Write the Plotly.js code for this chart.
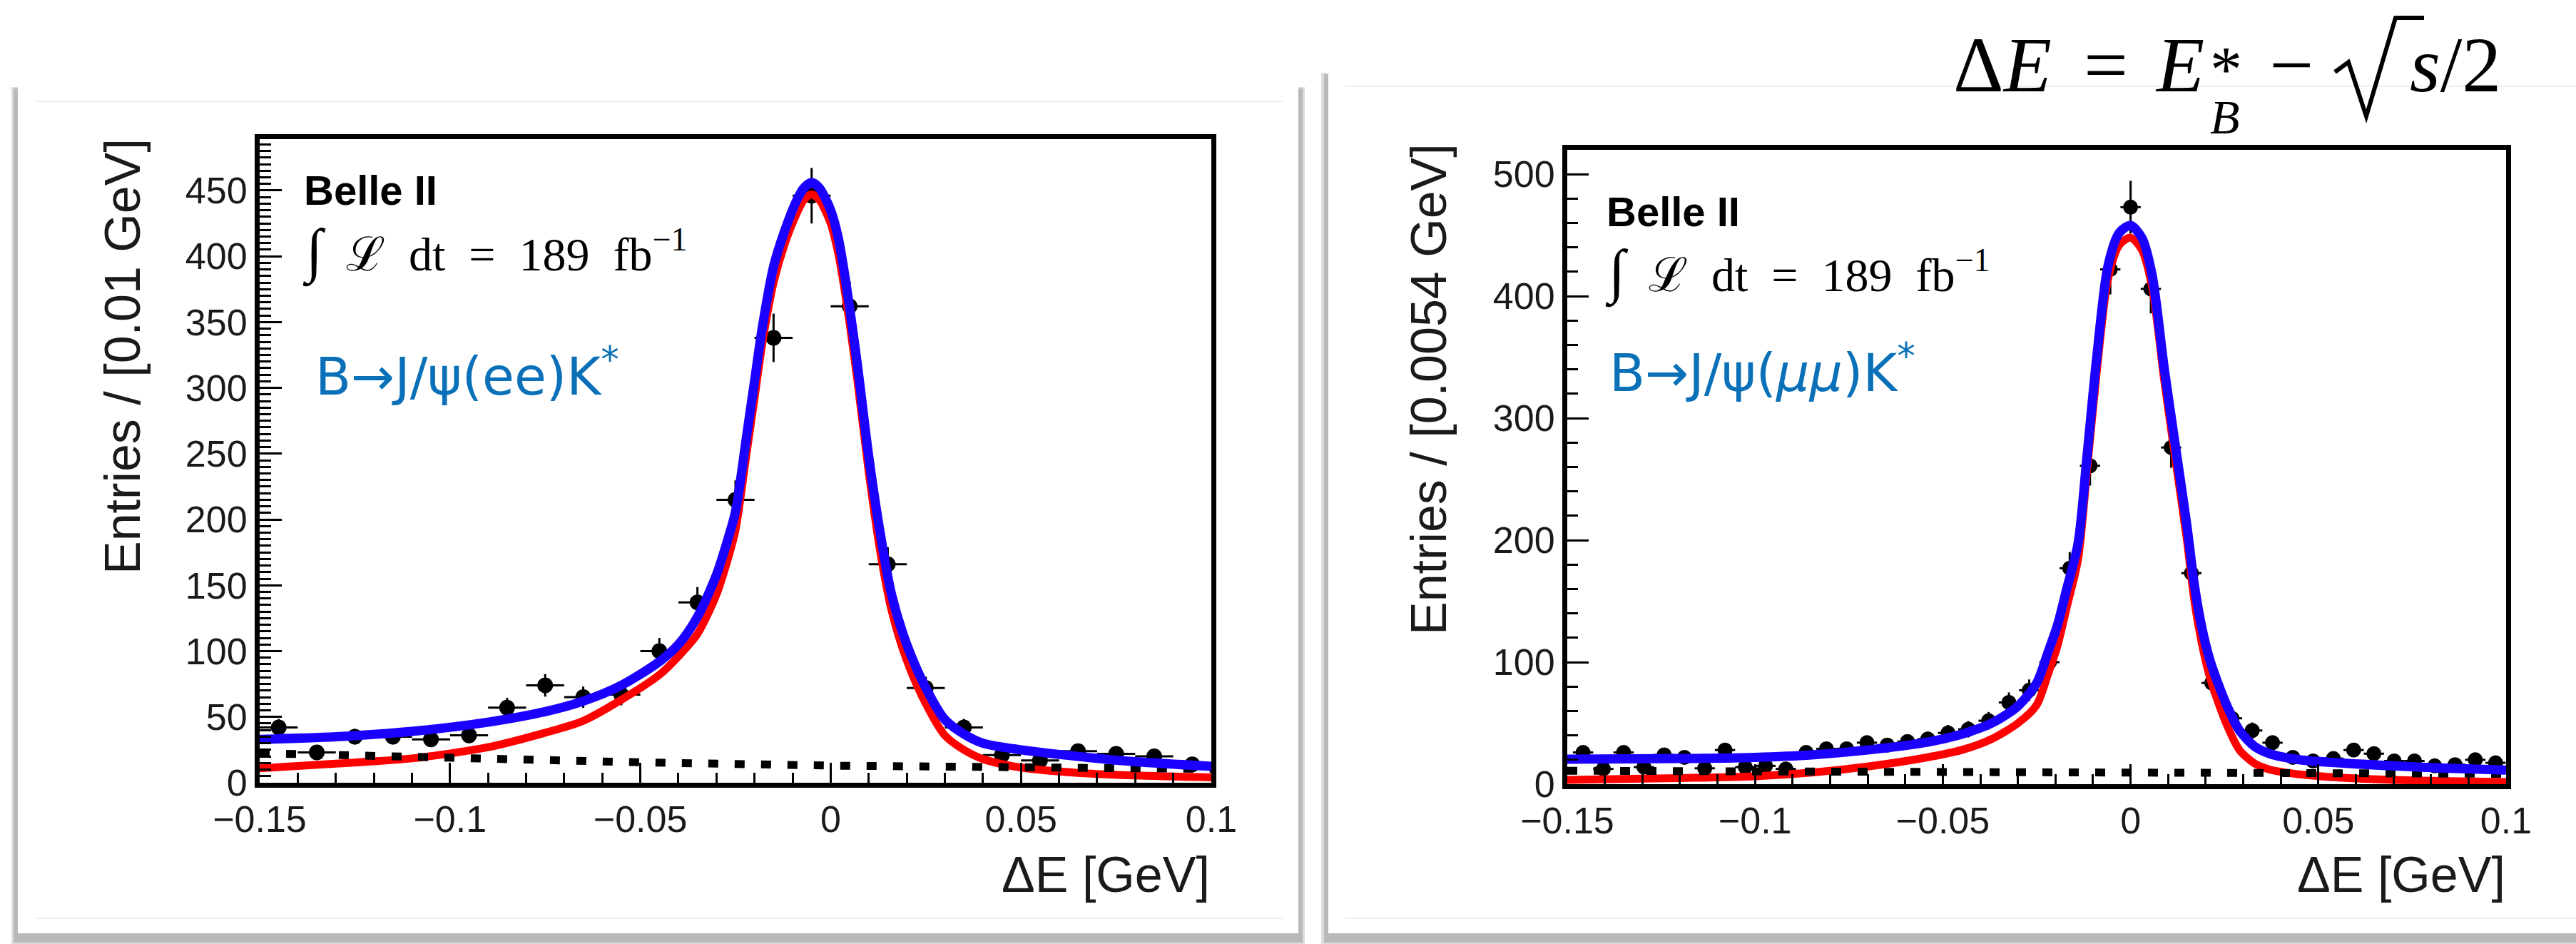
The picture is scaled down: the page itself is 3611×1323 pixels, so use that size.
<!DOCTYPE html>
<html>
<head>
<meta charset="utf-8">
<script src="https://cdn.plot.ly/plotly-3.0.1.min.js"></script>
<style>html,body{margin:0;padding:0;background:#fff;}#chart{width:3611px;height:1323px;}</style>
</head>
<body>
<div id="chart"></div>
<script>
// ---------- Data ----------
// Left panel: B -> J/psi(ee) K*, bins of 0.01 GeV
const leftBinCenters = [-0.145,-0.135,-0.125,-0.115,-0.105,-0.095,-0.085,-0.075,-0.065,-0.055,-0.045,-0.035,-0.025,-0.015,-0.005,0.005,0.015,0.025,0.035,0.045,0.055,0.065,0.075,0.085,0.095];
const leftCounts = [42,23,35,35,33,36,57,74,65,67,100,137,215,338,446,362,166,72,42,21,17,24,22,20,14];
const leftErrors = [6.5,4.8,5.9,5.9,5.7,6.0,7.5,8.6,8.1,8.2,10.0,11.7,14.7,18.4,21.1,19.0,12.9,8.5,6.5,4.6,4.1,4.9,4.7,4.5,3.7];
const leftCurveX = [-0.150,-0.130,-0.110,-0.090,-0.075,-0.065,-0.055,-0.045,-0.040,-0.035,-0.030,-0.027,-0.025,-0.022,-0.020,-0.018,-0.015,-0.012,-0.009,-0.007,-0.005,-0.003,0.000,0.002,0.004,0.007,0.010,0.013,0.016,0.020,0.025,0.030,0.035,0.040,0.050,0.065,0.080,0.100];
const leftTotal = [33,35,39,46,54,62,74,92,105,126,158,185,206,265,305,345,392,420,442,452,456,452,435,414,380,318,248,190,143,105,72,48,37,30,25,20,16,12.5];
const leftSignal = [11,14.5,18.5,27,38,47,63,82,96,113,143,170,192,252,292,333,380,410,432,443,447,443,425,402,368,306,236,176,131,93,60,36,25,18,11.5,7.5,5.5,4];
const leftBkgX = [-0.15,-0.10,-0.05,0.00,0.05,0.10];
const leftBkg = [22.5,18.5,15.5,13,11.5,10.5];

// Right panel: B -> J/psi(mumu) K*, bins of 0.0054 GeV
const rightBinCenters = [-0.1458,-0.1404,-0.135,-0.1296,-0.1242,-0.1188,-0.1134,-0.108,-0.1026,-0.0972,-0.0918,-0.0864,-0.081,-0.0756,-0.0702,-0.0648,-0.0594,-0.054,-0.0486,-0.0432,-0.0378,-0.0324,-0.027,-0.0216,-0.0162,-0.0108,-0.0054,0,0.0054,0.0108,0.0162,0.0216,0.027,0.0324,0.0378,0.0432,0.0486,0.054,0.0594,0.0648,0.0702,0.0756,0.081,0.0864,0.0918,0.0972];
const rightCounts = [26,12.5,26,14,24,22,13,28,14,15,12.5,26,29,29,34,32,35,37,42,45,52,67,77,100,177,261,422,473,406,276,173,83,54,44,34,22,19,21,28,25,19,19,15,16,20,17.5];
const rightErrors = [5.1,3.5,5.1,3.7,4.9,4.7,3.6,5.3,3.7,3.9,3.5,5.1,5.4,5.4,5.8,5.7,5.9,6.1,6.5,6.7,7.2,8.2,8.8,10.0,13.3,16.2,20.5,21.7,20.1,16.6,13.2,9.1,7.3,6.6,5.8,4.7,4.4,4.6,5.3,5.0,4.4,4.4,3.9,4.0,4.5,4.2];
const rightCurveX = [-0.150,-0.120,-0.100,-0.085,-0.070,-0.055,-0.045,-0.037,-0.030,-0.025,-0.022,-0.0195,-0.017,-0.014,-0.0115,-0.009,-0.006,-0.003,0.000,0.003,0.0057,0.009,0.012,0.015,0.017,0.019,0.021,0.023,0.026,0.029,0.033,0.037,0.045,0.055,0.070,0.085,0.100];
const rightTotal = [20.5,21,22,24,28,34,41,50,64,83,108,130,160,197,272,350,425,452,458,448,418,340,276,212,163,128,103,85,62,44,31,25,20,17.5,15,13,11.5];
const rightSignal = [3.5,5,6.5,9.5,14.5,21.5,28,37,50,65,90,113,145,184,260,338,414,442,448,438,408,330,265,200,150,115,89,70,46,28,17,12,8,5.5,3.5,2.5,1.8];
const rightBkgX = [-0.15,-0.05,0.05,0.10];
const rightBkg = [11,10,9,8.5];

// Text
const leftYTitle = "Entries / [0.01 GeV]";
const rightYTitle = "Entries / [0.0054 GeV]";
const xTitle = "ΔE [GeV]";
const expLabel = "<b>Belle II</b>";
const lumiLabel = "<span style='font-size:84px'>∫</span>\u00A0\u00A0ℒ\u00A0\u00A0dt\u00A0\u00A0=\u00A0\u00A0189\u00A0\u00A0fb<sup>−1</sup>";
const leftDecay = "B→J/ψ(ee)K<sup>*</sup>";
const rightDecay = "B→J/ψ(<i>μμ</i>)K<sup>*</sup>";

// ---------- Layout helpers ----------
const W = 3611, H = 1323;
const px = x => x / W;
const py = y => 1 - y / H;

const SANS = "Liberation Sans, Arial, Helvetica, sans-serif";
const SERIF = "Liberation Serif, Times New Roman, serif";
const DECAY_FONT = "DejaVu Sans, Verdana, sans-serif";
const BLUE_TXT = "#0a70b8";

function dataTraces(xa, ya, bins, counts, errs, halfw, msize, cx, total, signal, bx, bkg) {
  return [
    {x: bins, y: counts, xaxis: xa, yaxis: ya, type: 'scatter', mode: 'markers',
     marker: {color: 'black', size: msize},
     error_y: {type: 'data', array: errs, visible: true, color: 'black', thickness: 3, width: 0},
     error_x: {type: 'constant', value: halfw, visible: true, color: 'black', thickness: 3, width: 0},
     hoverinfo: 'skip'},
    {x: cx, y: signal, xaxis: xa, yaxis: ya, type: 'scatter', mode: 'lines',
     line: {color: '#ff0000', width: 11, shape: 'spline', smoothing: 0.8}, hoverinfo: 'skip'},
    {x: bx, y: bkg, xaxis: xa, yaxis: ya, type: 'scatter', mode: 'lines',
     line: {color: 'black', width: 11, dash: '14px,23px'}, hoverinfo: 'skip'},
    {x: cx, y: total, xaxis: xa, yaxis: ya, type: 'scatter', mode: 'lines',
     line: {color: '#1a00ff', width: 13, shape: 'spline', smoothing: 0.8}, hoverinfo: 'skip'}
  ];
}

const traces = [].concat(
  dataTraces('x', 'y', leftBinCenters, leftCounts, leftErrors, 0.005, 22, leftCurveX, leftTotal, leftSignal, leftBkgX, leftBkg),
  dataTraces('x2', 'y2', rightBinCenters, rightCounts, rightErrors, 0.0027, 21, rightCurveX, rightTotal, rightSignal, rightBkgX, rightBkg)
);

function xAxis(domain, anchor) {
  return {domain: domain, anchor: anchor, range: [-0.15, 0.1], dtick: 0.05, tick0: 0,
    ticks: 'inside', ticklen: 28, tickwidth: 3, tickcolor: 'black',
    showline: true, linewidth: 7, linecolor: 'black', mirror: true,
    showgrid: false, zeroline: false,
    tickfont: {family: SANS, size: 52, color: '#1a1a1a'},
    minor: {ticks: 'inside', ticklen: 14, tickwidth: 3, tickcolor: 'black', dtick: 0.01, showgrid: false}};
}
function yAxis(domain, anchor, top, dt, mdt, tl, mtl) {
  return {domain: domain, anchor: anchor, range: [0, top], dtick: dt, tick0: 0,
    ticks: 'inside', ticklen: tl, tickwidth: 3, tickcolor: 'black',
    showline: true, linewidth: 7, linecolor: 'black', mirror: true,
    showgrid: false, zeroline: false,
    tickfont: {family: SANS, size: 52, color: '#1a1a1a'},
    minor: {ticks: 'inside', ticklen: mtl, tickwidth: 3, tickcolor: 'black', dtick: mdt, showgrid: false}};
}

function ann(text, x, y, o) {
  o = o || {};
  return Object.assign({text: text, x: px(x), y: py(y), xref: 'paper', yref: 'paper',
    showarrow: false, xanchor: 'left', yanchor: 'middle', font: {family: SANS, size: 52, color: 'black'}}, o);
}

const annotations = [
  // left panel
  ann(leftYTitle, 172, 500, {xanchor: 'center', textangle: -90, font: {family: SANS, size: 70, color: '#1a1a1a'}}),
  ann(xTitle, 1698, 1226, {xanchor: 'right', font: {family: SANS, size: 70, color: '#1a1a1a'}}),
  ann(expLabel, 424, 267, {font: {family: SANS, size: 58, color: 'black'}}),
  ann(lumiLabel, 422, 353, {font: {family: SERIF, size: 66, color: 'black'}}),
  ann(leftDecay, 440, 522, {font: {family: DECAY_FONT, size: 73, color: BLUE_TXT}}),
  // right panel
  ann(rightYTitle, 2003, 546, {xanchor: 'center', textangle: -90, font: {family: SANS, size: 70, color: '#1a1a1a'}}),
  ann(xTitle, 3514, 1226, {xanchor: 'right', font: {family: SANS, size: 70, color: '#1a1a1a'}}),
  ann(expLabel, 2250, 296, {font: {family: SANS, size: 58, color: 'black'}}),
  ann(lumiLabel, 2248, 382, {font: {family: SERIF, size: 66, color: 'black'}}),
  ann(rightDecay, 2254, 517, {font: {family: DECAY_FONT, size: 73, color: BLUE_TXT}}),
  // formula  ΔE = E*_B − √s/2
  ann("Δ<i>E</i>", 2736, 91, {font: {family: SERIF, size: 110, color: 'black'}}),
  ann("=", 2952, 91, {xanchor: 'center', font: {family: SERIF, size: 110, color: 'black'}}),
  ann("<i>E</i>", 3020, 91, {borderpad: 0, font: {family: SERIF, size: 110, color: 'black'}}),
  ann("<span style='font-size:90px'>*</span><br><span style='font-size:68px'><i>B</i></span>", 3097, 125,
      {align: 'left', borderpad: 0, font: {family: SERIF, size: 45, color: 'black'}}),
  ann("−", 3212, 91, {xanchor: 'center', font: {family: SERIF, size: 110, color: 'black'}}),
  ann("<i>s</i>/2", 3376, 91, {font: {family: SERIF, size: 110, color: 'black'}})
];

function rect(x0, y0, x1, y1, fill, layer) {
  return {type: 'rect', xref: 'paper', yref: 'paper', x0: px(x0), x1: px(x1), y0: py(y1), y1: py(y0),
    fillcolor: fill, line: {width: 0}, layer: layer || 'below'};
}
function hline(x0, x1, y, color, w) {
  return {type: 'line', xref: 'paper', yref: 'paper', x0: px(x0), x1: px(x1), y0: py(y), y1: py(y),
    line: {color: color, width: w}, layer: 'below'};
}
function pathPx(pts, color, w) {
  const d = pts.map((p, i) => (i ? 'L ' : 'M ') + px(p[0]) + ' ' + py(p[1])).join(' ');
  return {type: 'path', xref: 'paper', yref: 'paper', path: d, line: {color: color, width: w}, layer: 'above'};
}

const shapes = [
  // left card with shadow
  rect(16, 122, 1829, 1323, '#dcdcdc'),
  rect(19, 124, 1826, 1321, '#b9b9b9'),
  rect(25, 121, 1820, 1308, '#ffffff'),
  hline(49, 1798, 142, '#f0f0f0', 2),
  hline(49, 1798, 1287, '#f0f0f0', 2),
  // right card with shadow
  rect(1852, 102, 3620, 1323, '#dcdcdc'),
  rect(1856, 104, 3620, 1321, '#b9b9b9'),
  rect(1862, 101, 3620, 1308, '#ffffff'),
  hline(1885, 3611, 121, '#f0f0f0', 2),
  hline(1885, 3611, 1287, '#f0f0f0', 2),
  // radical sign of the formula
  pathPx([[3273, 101], [3292, 87], [3317, 163], [3358, 25], [3398, 25]], 'black', 6)
];

const layout = {
  width: W, height: H, margin: {l: 0, r: 0, t: 0, b: 0},
  paper_bgcolor: '#ffffff', plot_bgcolor: 'rgba(0,0,0,0)', showlegend: false,
  xaxis: xAxis([px(364), px(1698)], 'y'),
  yaxis: yAxis([py(1097), py(195)], 'x', 489, 50, 5, 31, 16),
  xaxis2: xAxis([px(2197), px(3513)], 'y2'),
  yaxis2: yAxis([py(1099), py(210)], 'x2', 520, 100, 20, 30, 15),
  annotations: annotations,
  shapes: shapes
};

Plotly.newPlot('chart', traces, layout, {displayModeBar: false, staticPlot: true});
</script>
</body>
</html>
